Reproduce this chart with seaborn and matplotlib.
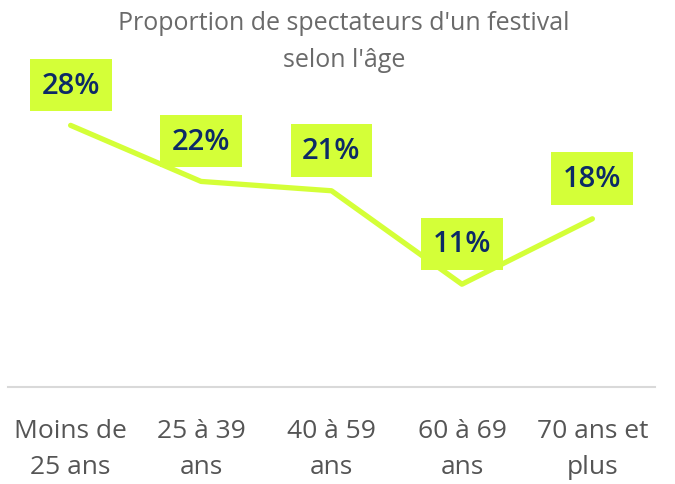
import pandas as pd
import seaborn as sns
import matplotlib.pyplot as plt

# data
categories = ['Moins de\n25 ans', '25 à 39\nans', '40 à 59\nans', '60 à 69\nans', '70 ans et\nplus']
values = [28, 22, 21, 11, 18]
labels = ['28%', '22%', '21%', '11%', '18%']

lime = '#d4ff38'
navy = '#0c2a66'

sns.set_theme(style='white')
plt.rcParams['font.family'] = ['Open Sans', 'DejaVu Sans']

df = pd.DataFrame({'age': categories, 'pct': values})

fig = plt.figure(figsize=(6.75, 4.85), dpi=100)
ax = fig.add_axes([8 / 675, 0.2, 647 / 675, 0.578])

sns.lineplot(data=df, x='age', y='pct', ax=ax, color=lime, linewidth=3.8,
             solid_capstyle='round', sort=False)

for i, (v, lab) in enumerate(zip(values, labels)):
    ax.annotate(lab, (i, v), xytext=(0, 29), textcoords='offset points',
                ha='center', va='center', fontsize=21, fontweight='semibold',
                color=navy,
                bbox=dict(boxstyle='square,pad=0.4', fc=lime, ec='none'))

ax.set_xlim(-0.48, 4.48)
ax.set_ylim(0, 30)
ax.set_xlabel('')
ax.set_ylabel('')
ax.set_yticks([])
ax.tick_params(axis='x', length=0, pad=22, labelsize=19, labelcolor='#555555')
for lbl in ax.get_xticklabels():
    lbl.set_linespacing(1.62)
for s in ['top', 'left', 'right']:
    ax.spines[s].set_visible(False)
ax.spines['bottom'].set_color('#d9d9d9')
ax.spines['bottom'].set_linewidth(1.5)

fig.text(0.51, 0.978, "Proportion de spectateurs d'un festival\nselon l'âge",
         ha='center', va='top', fontsize=18, color='#6a6a6a', linespacing=1.65)

fig.savefig('out.png', dpi=100)
